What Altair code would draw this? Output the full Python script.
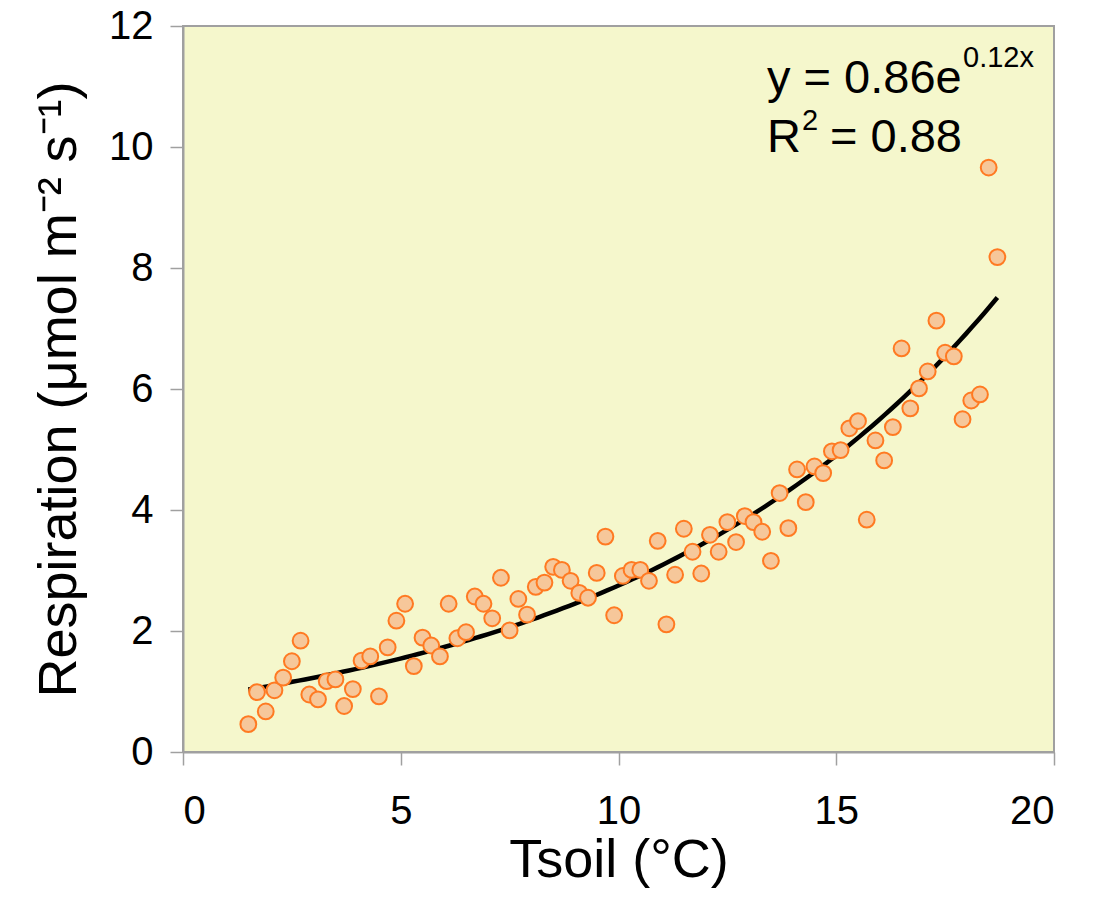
import altair as alt
import numpy as np
import pandas as pd

tsoil = [1.5, 1.7, 1.9, 2.1, 2.3, 2.5, 2.7, 2.9, 3.1, 3.3, 3.5, 3.7, 3.9, 4.1, 4.3, 4.5,
         4.7, 4.9, 5.1, 5.3, 5.5, 5.7, 5.9, 6.1, 6.3, 6.5, 6.7, 6.9, 7.1, 7.3, 7.5, 7.7,
         7.9, 8.1, 8.3, 8.5, 8.7, 8.9, 9.1, 9.3, 9.5, 9.7, 9.9, 10.1, 10.3, 10.5, 10.7,
         10.9, 11.1, 11.3, 11.5, 11.7, 11.9, 12.1, 12.3, 12.5, 12.7, 12.9, 13.1, 13.3,
         13.5, 13.7, 13.9, 14.1, 14.3, 14.5, 14.7, 14.9, 15.1, 15.3, 15.5, 15.7, 15.9,
         16.1, 16.3, 16.5, 16.7, 16.9, 17.1, 17.3, 17.5, 17.7, 17.9, 18.1, 18.3, 18.5, 18.7]
resp = [0.46, 0.99, 0.67, 1.02, 1.23, 1.50, 1.84, 0.95, 0.87, 1.17, 1.20, 0.76, 1.04, 1.51,
        1.58, 0.92, 1.73, 2.17, 2.45, 1.42, 1.89, 1.76, 1.58, 2.45, 1.88, 1.98, 2.57, 2.45,
        2.21, 2.88, 2.01, 2.53, 2.27, 2.73, 2.80, 3.06, 3.01, 2.83, 2.63, 2.55, 2.96, 3.56,
        2.26, 2.91, 3.01, 3.01, 2.83, 3.49, 2.11, 2.93, 3.69, 3.31, 2.95, 3.59, 3.31, 3.80,
        3.47, 3.90, 3.80, 3.64, 3.16, 4.28, 3.70, 4.67, 4.13, 4.72, 4.61, 4.97, 4.99, 5.35,
        5.47, 3.84, 5.15, 4.82, 5.37, 6.67, 5.68, 6.01, 6.29, 7.13, 6.60, 6.54, 5.50, 5.81,
        5.91, 9.66, 8.18]
x_ticks = [0, 5, 10, 15, 20]
y_ticks = [0, 2, 4, 6, 8, 10, 12]

df = pd.DataFrame({"T": tsoil, "R": resp})

# Exponential trendline (least squares on ln y, as a spreadsheet trendline does)
b, ln_a = np.polyfit(np.array(tsoil), np.log(np.array(resp)), 1)
tx = np.linspace(min(tsoil), max(tsoil), 120)
fit_df = pd.DataFrame({"T": tx, "R": np.exp(ln_a) * np.exp(b * tx)})

FONT = "Liberation Sans"
xsc = alt.Scale(domain=[0, 20], nice=False, zero=False)
ysc = alt.Scale(domain=[0, 12], nice=False)

points = alt.Chart(df).mark_point(
    shape="circle", filled=True, size=250, fill="#F6C79A", stroke="#FF7A22",
    strokeWidth=2, opacity=1
).encode(
    x=alt.X("T:Q", scale=xsc, title="Tsoil (°C)",
            axis=alt.Axis(values=x_ticks, format="d", labelPadding=26, titlePadding=2)),
    y=alt.Y("R:Q", scale=ysc, title="Respiration (μmol m⁻² s⁻¹)",
            axis=alt.Axis(values=y_ticks, format="d", labelPadding=17, titlePadding=22)),
)

fit = alt.Chart(fit_df).mark_line(color="black", strokeWidth=4.5).encode(
    x=alt.X("T:Q", scale=xsc), y=alt.Y("R:Q", scale=ysc)
)

one = pd.DataFrame({"a": [0]})
def txt(s, x, y, size):
    return alt.Chart(one).mark_text(
        text=s, align="left", baseline="alphabetic", font=FONT, fontSize=size, color="black"
    ).encode(x=alt.value(x), y=alt.value(y))

ann = [
    txt("y = 0.86e", 584, 67, 47),
    txt("0.12x", 780, 41, 29),
    txt("R", 584, 126, 47),
    txt("2", 619, 104, 29),
    txt("= 0.88", 647, 126, 47),
]

chart = alt.layer(fit, points, *ann).properties(
    width=871, height=726,
    autosize=alt.AutoSizeParams(type="none"),
    padding={"left": 175, "top": 18, "right": 20, "bottom": 136},
).configure_view(
    fill="#F5F7CC", stroke="#A0A0A0", strokeWidth=2
).configure_axis(
    labelFont=FONT, titleFont=FONT, labelFontSize=40, titleFontSize=54,
    labelColor="black", titleColor="black", titleFontWeight="normal",
    domainColor="#A0A0A0", domainWidth=2, tickColor="#A0A0A0", tickWidth=1.5,
    tickSize=13, grid=False
)

chart.save("out.html", embed_options={"renderer": "svg", "actions": False})
